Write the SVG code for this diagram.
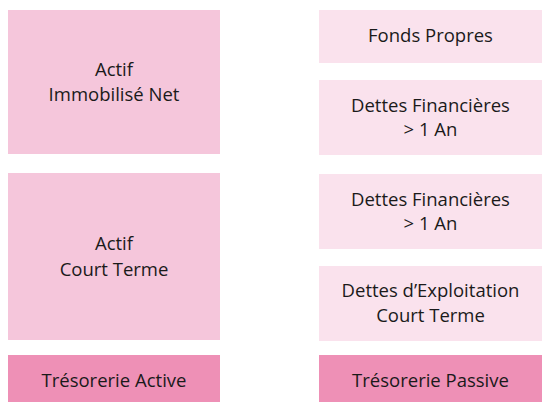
<svg xmlns="http://www.w3.org/2000/svg" width="542" height="402" viewBox="0 0 542 402">
<style>
.a{fill:#F5C6DB}
.p{fill:#FAE2ED}
.t{fill:#EE90B6}
text{font-family:"Open Sans","Liberation Sans",sans-serif;font-size:18.5px;fill:#1a1a1a;text-anchor:middle}
</style>
<rect width="542" height="402" fill="#fff"/>
<g id="actif-immobilise">
<rect class="a" x="8" y="10" width="212" height="144"/>
<text x="114" y="76">Actif</text>
<text x="114" y="101">Immobilisé Net</text>
</g>
<g id="actif-court-terme">
<rect class="a" x="8" y="173" width="212" height="167"/>
<text x="114" y="250">Actif</text>
<text x="114" y="276">Court Terme</text>
</g>
<g id="tresorerie-active">
<rect class="t" x="8" y="355" width="212" height="47"/>
<text x="114" y="387">Trésorerie Active</text>
</g>
<g id="fonds-propres">
<rect class="p" x="319" y="10" width="223" height="53"/>
<text x="430.5" y="42">Fonds Propres</text>
</g>
<g id="dettes-fin-1">
<rect class="p" x="319" y="80" width="223" height="75"/>
<text x="430.5" y="112">Dettes Financières</text>
<text x="430.5" y="136">&gt; 1 An</text>
</g>
<g id="dettes-fin-2">
<rect class="p" x="319" y="174" width="223" height="75"/>
<text x="430.5" y="206">Dettes Financières</text>
<text x="430.5" y="230">&gt; 1 An</text>
</g>
<g id="dettes-exploitation">
<rect class="p" x="319" y="266" width="223" height="75"/>
<text x="430.5" y="297">Dettes d’Exploitation</text>
<text x="430.5" y="322">Court Terme</text>
</g>
<g id="tresorerie-passive">
<rect class="t" x="319" y="355" width="223" height="47"/>
<text x="430.5" y="387">Trésorerie Passive</text>
</g>
<g id="connectors"/>
</svg>
